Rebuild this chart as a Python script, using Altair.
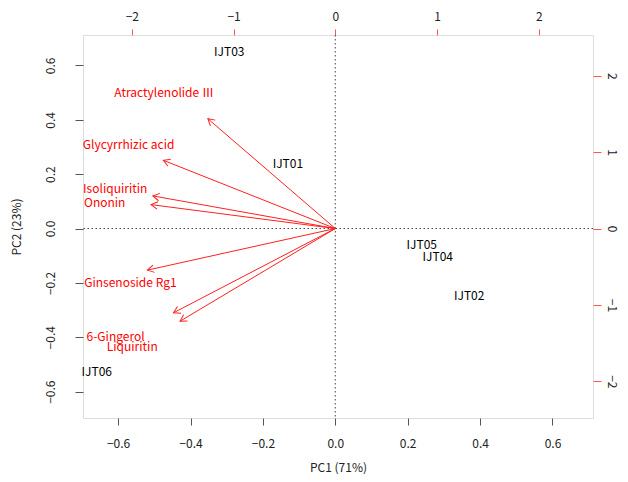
import math
import altair as alt
import pandas as pd

# ---- data ----
obs_names = ["IJT01", "IJT02", "IJT03", "IJT04", "IJT05", "IJT06"]
obs_pc1 = [-0.131, 0.370, -0.293, 0.283, 0.239, -0.659]
obs_pc2 = [0.236, -0.248, 0.649, -0.104, -0.059, -0.527]

var_names = ["Atractylenolide \u2162", "Glycyrrhizic acid", "Isoliquiritin", "Ononin",
             "Ginsenoside Rg1", "6-Gingerol", "Liquiritin"]
arrow_pc1 = [-0.352, -0.475, -0.504, -0.509, -0.519, -0.447, -0.429]
arrow_pc2 = [0.404, 0.251, 0.120, 0.088, -0.153, -0.310, -0.341]
label_pc1 = [-0.473, -0.571, -0.608, -0.637, -0.566, -0.607, -0.561]
label_pc2 = [0.500, 0.309, 0.147, 0.094, -0.200, -0.399, -0.435]

pc_ticks = [-0.6, -0.4, -0.2, 0.0, 0.2, 0.4, 0.6]
var_ticks = [-2, -1, 0, 1, 2]

# ---- layout ----
lim = [-0.697, 0.712]
ratio = 0.281  # variable-axis unit expressed in PC units
sec_lim = [lim[0] / ratio, lim[1] / ratio]
W, H = 510, 383
FONT = "Noto Sans CJK KR"
RED = "#FF2020"

ppx = W / (lim[1] - lim[0])
ppy = H / (lim[1] - lim[0])

obs = pd.DataFrame({"x": obs_pc1, "y": obs_pc2, "name": obs_names})
arr = pd.DataFrame({"x": arrow_pc1, "y": arrow_pc2, "x0": 0.0, "y0": 0.0, "name": var_names})
arr["ang"] = [(math.degrees(math.atan2(-y * ppy, x * ppx)) + 360) % 360
              for x, y in zip(arrow_pc1, arrow_pc2)]
lab = pd.DataFrame({"x": label_pc1, "y": label_pc2, "name": var_names})
vline = pd.DataFrame({"x": [0.0]})
hline = pd.DataFrame({"y": [0.0]})
sec = pd.DataFrame({"a": var_ticks, "b": var_ticks})

xs = alt.Scale(domain=lim, nice=False, zero=False)
ys = alt.Scale(domain=lim, nice=False, zero=False)

x_axis = alt.Axis(values=pc_ticks, format=".1f", title="PC1 (71%)", grid=False, domain=False,
                  tickColor="#555555", tickSize=7, labelPadding=18, labelBaseline="middle",
                  labelColor="#222222", labelFontSize=12, labelFont=FONT,
                  titleFont=FONT, titleFontSize=12, titleFontWeight="normal", titleColor="#222222",
                  titleY=49, titleBaseline="middle")
y_axis = alt.Axis(values=pc_ticks, format=".1f", title="PC2 (23%)", grid=False, domain=False,
                  tickColor="#555555", tickSize=8, labelPadding=25, labelAngle=270,
                  labelBaseline="middle", labelAlign="center",
                  labelColor="#222222", labelFontSize=12, labelFont=FONT,
                  titleFont=FONT, titleFontSize=12, titleFontWeight="normal", titleColor="#222222",
                  titleX=-67, titleAngle=270, titleBaseline="middle", titleAlign="center")

X = lambda f: alt.X(f"{f}:Q", scale=xs, axis=x_axis)
Y = lambda f: alt.Y(f"{f}:Q", scale=ys, axis=y_axis)

vrule = alt.Chart(vline).mark_rule(color="#444444", strokeDash=[1.5, 2.5], strokeWidth=1).encode(x=X("x"))
hrule = alt.Chart(hline).mark_rule(color="#444444", strokeDash=[1.5, 2.5], strokeWidth=1).encode(y=Y("y"))

arrows = alt.Chart(arr).mark_rule(color=RED, strokeWidth=1).encode(
    x=X("x0"), y=Y("y0"), x2="x:Q", y2="y:Q")
heads = alt.Chart(arr).mark_point(
    shape="M -0.866 -0.5 L 0 0 L -0.866 0.5", filled=False, size=225,
    color=RED, strokeWidth=1, opacity=1).encode(
    x=X("x"), y=Y("y"), angle=alt.Angle("ang:Q", scale=None))

obs_text = alt.Chart(obs).mark_text(font=FONT, fontSize=12, color="#000000").encode(
    x=X("x"), y=Y("y"), text="name:N")
var_text = alt.Chart(lab).mark_text(font=FONT, fontSize=12, color="#FF0000").encode(
    x=X("x"), y=Y("y"), text="name:N")

primary = alt.layer(vrule, hrule, arrows, heads, var_text, obs_text)

secondary = alt.Chart(sec).mark_point(opacity=0).encode(
    x=alt.X("a:Q", scale=alt.Scale(domain=sec_lim, nice=False, zero=False),
            axis=alt.Axis(orient="top", values=var_ticks, format="d", title=None, grid=False,
                          domain=False, tickColor="#FF5555", tickSize=6, labelPadding=13,
                          labelBaseline="middle", labelColor="#222222", labelFontSize=12,
                          labelFont=FONT)),
    y=alt.Y("b:Q", scale=alt.Scale(domain=sec_lim, nice=False, zero=False),
            axis=alt.Axis(orient="right", values=var_ticks, format="d", title=None, grid=False,
                          domain=False, tickColor="#FF5555", tickSize=8, labelPadding=10,
                          labelAngle=90, labelBaseline="middle", labelAlign="center",
                          labelColor="#222222", labelFontSize=12, labelFont=FONT)),
)

chart = alt.layer(primary, secondary).resolve_scale(
    x="independent", y="independent"
).properties(
    width=W, height=H, autosize="none",
    padding={"left": 75, "top": 27, "right": 27, "bottom": 56},
).configure_view(stroke="#555555", strokeWidth=1).configure(background="white")

chart.save("out.html", embed_options={"renderer": "svg", "actions": False})
